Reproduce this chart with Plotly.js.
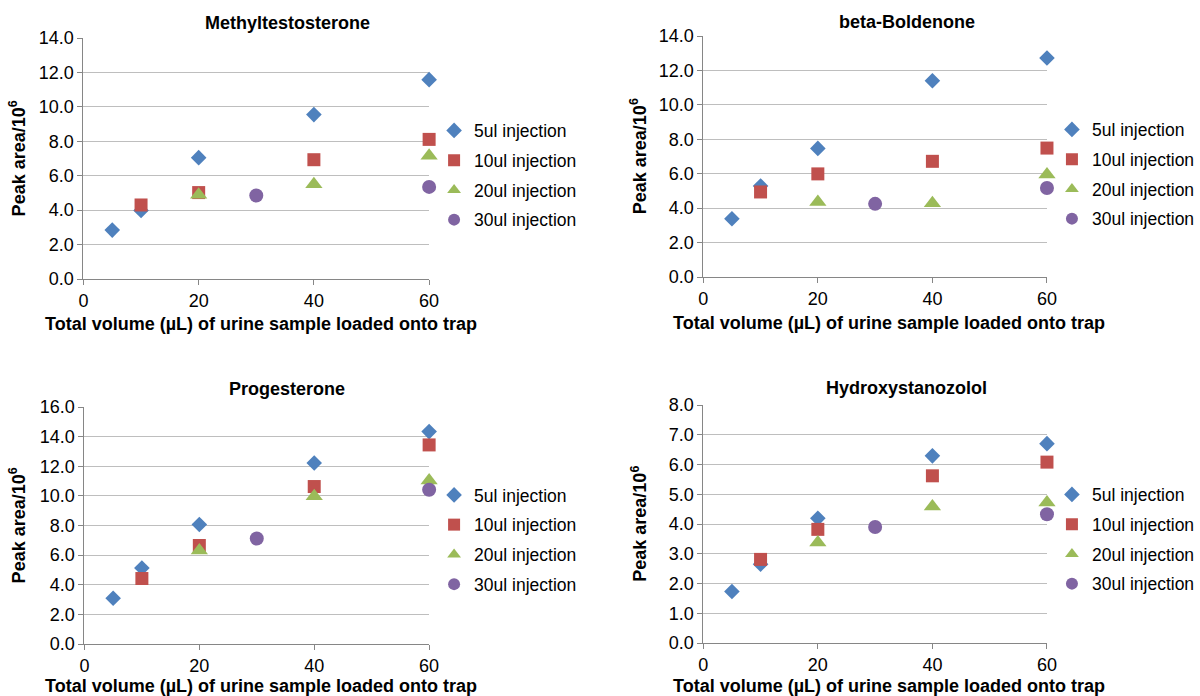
<!DOCTYPE html>
<html>
<head>
<meta charset="utf-8">
<script src="https://cdn.plot.ly/plotly-3.0.1.min.js"></script>
<style>html,body{margin:0;padding:0;background:#fff}#chart{width:1200px;height:696px}</style>
</head>
<body>
<div id="chart"></div>
<script>
// ---- data ----
const seriesNames = ["5ul injection", "10ul injection", "20ul injection", "30ul injection"];
const panelTitles = ["Methyltestosterone", "beta-Boldenone", "Progesterone", "Hydroxystanozolol"];
const xAxisTitle = "Total volume (µL) of urine sample loaded onto trap";
const yAxisTitle = "Peak area/10<sup>6</sup>";

// Methyltestosterone
const mt5x = [5, 10, 20, 40, 60],  mt5y = [2.84, 3.98, 7.05, 9.55, 11.58];
const mt10x = [10, 20, 40, 60],    mt10y = [4.30, 5.02, 6.93, 8.11];
const mt20x = [20, 40, 60],        mt20y = [4.90, 5.50, 7.16];
const mt30x = [30, 60],            mt30y = [4.85, 5.35];

// beta-Boldenone
const bb5x = [5, 10, 20, 40, 60],  bb5y = [3.38, 5.29, 7.47, 11.40, 12.72];
const bb10x = [10, 20, 40, 60],    bb10y = [4.94, 5.99, 6.72, 7.49];
const bb20x = [20, 40, 60],        bb20y = [4.35, 4.28, 5.95];
const bb30x = [30, 60],            bb30y = [4.25, 5.17];

// Progesterone
const pg5x = [5, 10, 20, 40, 60],  pg5y = [3.09, 5.13, 8.07, 12.22, 14.34];
const pg10x = [10, 20, 40, 60],    pg10y = [4.42, 6.65, 10.63, 13.44];
const pg20x = [20, 40, 60],        pg20y = [6.32, 9.97, 11.03];
const pg30x = [30, 60],            pg30y = [7.12, 10.41];

// Hydroxystanozolol
const hs5x = [5, 10, 20, 40, 60],  hs5y = [1.73, 2.65, 4.19, 6.29, 6.70];
const hs10x = [10, 20, 40, 60],    hs10y = [2.81, 3.82, 5.62, 6.08];
const hs20x = [20, 40, 60],        hs20y = [3.38, 4.59, 4.72];
const hs30x = [30, 60],            hs30y = [3.90, 4.33];

const xTicks = [0, 20, 40, 60];
const yMax = [14, 14, 16, 8];
const yStep = [2, 2, 2, 1];

const panels = [
  [[mt5x, mt5y], [mt10x, mt10y], [mt20x, mt20y], [mt30x, mt30y]],
  [[bb5x, bb5y], [bb10x, bb10y], [bb20x, bb20y], [bb30x, bb30y]],
  [[pg5x, pg5y], [pg10x, pg10y], [pg20x, pg20y], [pg30x, pg30y]],
  [[hs5x, hs5y], [hs10x, hs10y], [hs20x, hs20y], [hs30x, hs30y]]
];

// ---- styling ----
const colors = ["#4F81BD", "#C0504D", "#9BBB59", "#8064A2"];
const symbols = ["diamond", "square", "triangle-up", "circle"];
const sizes = [12, 13, 15, 14];
const FONT = "Liberation Sans, Arial, sans-serif";

const W = 1200, H = 696;
// plot areas in pixels: [x0, x1, yTop, yBottom]
const boxes = [
  [84, 432, 38, 279],
  [708, 1054, 36, 277],
  [85, 432, 407, 644],
  [708, 1054, 405, 643]
];
// text placements in pixels
const titleCenters = [[289, 23], [913, 22], [289, 389], [913, 388]];
const xTitleCenters = [[263, 324], [895, 323], [263, 686], [895, 686]];
const yTitleX = [18, 643, 18, 643];
const legendCenters = [175, 174, 539.5, 539];

const traces = [];
const layout = {
  width: W, height: H,
  margin: {l: 0, r: 0, t: 0, b: 0},
  paper_bgcolor: "#ffffff", plot_bgcolor: "#ffffff",
  font: {family: FONT, size: 18, color: "#000"},
  annotations: []
};

panels.forEach((panel, p) => {
  const ax = p === 0 ? "" : String(p + 1);
  const [x0, x1, yt, yb] = boxes[p];
  const legName = p === 0 ? "legend" : "legend" + (p + 1);
  panel.forEach((s, i) => {
    traces.push({
      type: "scatter", mode: "markers",
      x: s[0], y: s[1],
      name: seriesNames[i],
      xaxis: "x" + ax, yaxis: "y" + ax,
      legend: legName,
      legendgroup: "g" + p + "_" + i,
      marker: {symbol: symbols[i], color: colors[i], size: sizes[i], line: {width: 0}},
      cliponaxis: false
    });
  });
  const ticksY = [];
  for (let v = 0; v <= yMax[p] + 1e-9; v += yStep[p]) ticksY.push(v);
  layout["xaxis" + ax] = {
    domain: [x0 / W, x1 / W],
    anchor: "y" + ax,
    range: [0, 60],
    tickvals: xTicks,
    ticktext: xTicks.map(String),
    showgrid: false, zeroline: false,
    showline: true, linecolor: "#868686", linewidth: 1,
    ticks: "outside", ticklen: 5, tickcolor: "#868686",
    tickfont: {family: FONT, size: 18, color: "#000"}
  };
  layout["yaxis" + ax] = {
    domain: [1 - yb / H, 1 - yt / H],
    anchor: "x" + ax,
    range: [0, yMax[p]],
    tickvals: ticksY,
    ticktext: ticksY.map(v => v.toFixed(1)),
    showgrid: true, gridcolor: "#BEBEBE", gridwidth: 1,
    zeroline: false,
    showline: true, linecolor: "#868686", linewidth: 1,
    ticks: "outside", ticklen: 5, tickcolor: "#868686",
    tickfont: {family: FONT, size: 18, color: "#000"}
  };
  layout[legName] = {
    x: (x1 + 5) / W, xanchor: "left",
    y: 1 - legendCenters[p] / H, yanchor: "middle",
    font: {family: FONT, size: 17.5, color: "#000"},
    bgcolor: "rgba(0,0,0,0)",
    tracegroupgap: 4,
    itemsizing: "constant",
    itemwidth: 30
  };
  layout.annotations.push({
    xref: "paper", yref: "paper",
    x: titleCenters[p][0] / W, y: 1 - titleCenters[p][1] / H,
    xanchor: "center", yanchor: "middle",
    text: "<b>" + panelTitles[p] + "</b>",
    showarrow: false,
    font: {family: FONT, size: 18, color: "#000"}
  });
  layout.annotations.push({
    xref: "paper", yref: "paper",
    x: xTitleCenters[p][0] / W, y: 1 - xTitleCenters[p][1] / H,
    xanchor: "center", yanchor: "middle",
    text: "<b>" + xAxisTitle + "</b>",
    showarrow: false,
    font: {family: FONT, size: 18, color: "#000"}
  });
  layout.annotations.push({
    xref: "paper", yref: "paper",
    x: yTitleX[p] / W, y: 1 - ((yt + yb) / 2) / H,
    xanchor: "center", yanchor: "middle",
    textangle: -90,
    text: "<b>" + yAxisTitle + "</b>",
    showarrow: false,
    font: {family: FONT, size: 18, color: "#000"}
  });
});

Plotly.newPlot("chart", traces, layout, {displayModeBar: false, staticPlot: true});
</script>
</body>
</html>
